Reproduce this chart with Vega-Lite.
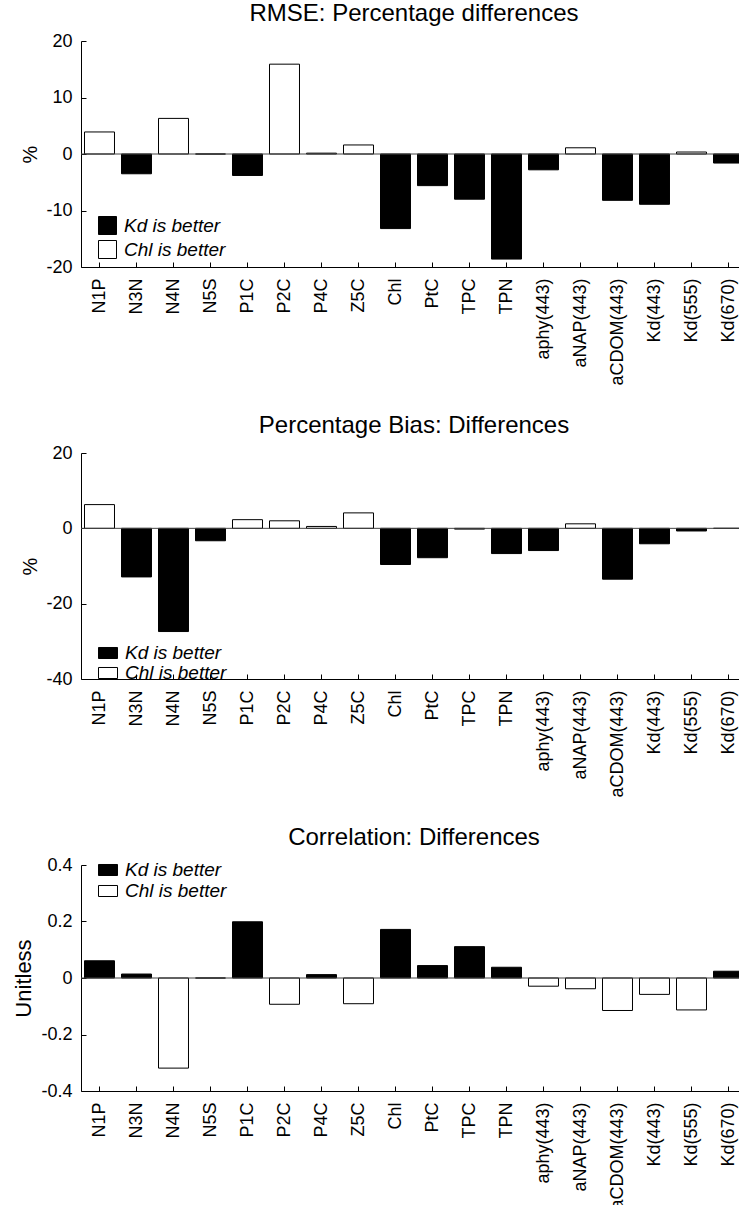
{
  "$schema": "https://vega.github.io/schema/vega-lite/v6.json",
  "padding": {"left": 12, "top": 2, "right": 0, "bottom": 0},
  "background": "white",
  "datasets": {
    "rmse": [
      {"var": "N1P", "value": 3.9, "better": "Chl is better"},
      {"var": "N3N", "value": -3.5, "better": "Kd is better"},
      {"var": "N4N", "value": 6.3, "better": "Chl is better"},
      {"var": "N5S", "value": 0, "better": "Chl is better"},
      {"var": "P1C", "value": -3.8, "better": "Kd is better"},
      {"var": "P2C", "value": 15.9, "better": "Chl is better"},
      {"var": "P4C", "value": 0.15, "better": "Chl is better"},
      {"var": "Z5C", "value": 1.6, "better": "Chl is better"},
      {"var": "Chl", "value": -13.2, "better": "Kd is better"},
      {"var": "PtC", "value": -5.6, "better": "Kd is better"},
      {"var": "TPC", "value": -8.0, "better": "Kd is better"},
      {"var": "TPN", "value": -18.6, "better": "Kd is better"},
      {"var": "aphy(443)", "value": -2.8, "better": "Kd is better"},
      {"var": "aNAP(443)", "value": 1.1, "better": "Chl is better"},
      {"var": "aCDOM(443)", "value": -8.2, "better": "Kd is better"},
      {"var": "Kd(443)", "value": -8.9, "better": "Kd is better"},
      {"var": "Kd(555)", "value": 0.35, "better": "Chl is better"},
      {"var": "Kd(670)", "value": -1.6, "better": "Kd is better"}
    ],
    "bias": [
      {"var": "N1P", "value": 6.3, "better": "Chl is better"},
      {"var": "N3N", "value": -12.9, "better": "Kd is better"},
      {"var": "N4N", "value": -27.4, "better": "Kd is better"},
      {"var": "N5S", "value": -3.3, "better": "Kd is better"},
      {"var": "P1C", "value": 2.3, "better": "Chl is better"},
      {"var": "P2C", "value": 2.0, "better": "Chl is better"},
      {"var": "P4C", "value": 0.5, "better": "Chl is better"},
      {"var": "Z5C", "value": 4.1, "better": "Chl is better"},
      {"var": "Chl", "value": -9.6, "better": "Kd is better"},
      {"var": "PtC", "value": -7.8, "better": "Kd is better"},
      {"var": "TPC", "value": -0.2, "better": "Kd is better"},
      {"var": "TPN", "value": -6.7, "better": "Kd is better"},
      {"var": "aphy(443)", "value": -5.9, "better": "Kd is better"},
      {"var": "aNAP(443)", "value": 1.2, "better": "Chl is better"},
      {"var": "aCDOM(443)", "value": -13.5, "better": "Kd is better"},
      {"var": "Kd(443)", "value": -4.1, "better": "Kd is better"},
      {"var": "Kd(555)", "value": -0.7, "better": "Kd is better"},
      {"var": "Kd(670)", "value": 0, "better": "Chl is better"}
    ],
    "corr": [
      {"var": "N1P", "value": 0.061, "better": "Kd is better"},
      {"var": "N3N", "value": 0.014, "better": "Kd is better"},
      {"var": "N4N", "value": -0.319, "better": "Chl is better"},
      {"var": "N5S", "value": 0, "better": "Chl is better"},
      {"var": "P1C", "value": 0.199, "better": "Kd is better"},
      {"var": "P2C", "value": -0.093, "better": "Chl is better"},
      {"var": "P4C", "value": 0.012, "better": "Kd is better"},
      {"var": "Z5C", "value": -0.091, "better": "Chl is better"},
      {"var": "Chl", "value": 0.172, "better": "Kd is better"},
      {"var": "PtC", "value": 0.044, "better": "Kd is better"},
      {"var": "TPC", "value": 0.111, "better": "Kd is better"},
      {"var": "TPN", "value": 0.038, "better": "Kd is better"},
      {"var": "aphy(443)", "value": -0.029, "better": "Chl is better"},
      {"var": "aNAP(443)", "value": -0.038, "better": "Chl is better"},
      {"var": "aCDOM(443)", "value": -0.115, "better": "Chl is better"},
      {"var": "Kd(443)", "value": -0.058, "better": "Chl is better"},
      {"var": "Kd(555)", "value": -0.113, "better": "Chl is better"},
      {"var": "Kd(670)", "value": 0.024, "better": "Kd is better"}
    ]
  },
  "spacing": 186,
  "bounds": "flush",
  "resolve": {"scale": {"fill": "independent", "y": "independent"}, "legend": {"fill": "independent"}},
  "vconcat": [
    {
      "width": 666, "height": 226,
      "title": "RMSE: Percentage differences",
      "layer": [
        {
          "data": {"name": "rmse"},
          "mark": {"type": "bar", "stroke": "black", "strokeWidth": 1},
          "encoding": {
            "x": {"field": "var", "type": "nominal", "sort": null, "scale": {"paddingInner": 0.19, "paddingOuter": 0.095}, "axis": {"title": null}},
            "y": {"field": "value", "type": "quantitative", "scale": {"domain": [-20, 20], "nice": false, "zero": false}, "axis": {"title": "%", "values": [-20, -10, 0, 10, 20], "labelExpr": "'' + datum.value", "titleFontSize": 20}},
            "fill": {"field": "better", "type": "nominal", "scale": {"domain": ["Kd is better", "Chl is better"], "range": ["black", "white"]},
              "legend": {"orient": "none", "legendX": 17, "legendY": 175, "title": null, "symbolType": "square", "symbolSize": 324, "rowPadding": 1}}
          }
        },
        {
          "data": {"values": [{}]},
          "mark": {"type": "rule", "color": "#444", "strokeWidth": 1},
          "encoding": {"y": {"datum": 0}}
        }
      ]
    },
    {
      "width": 666, "height": 226,
      "title": "Percentage Bias: Differences",
      "layer": [
        {
          "data": {"name": "bias"},
          "mark": {"type": "bar", "stroke": "black", "strokeWidth": 1},
          "encoding": {
            "x": {"field": "var", "type": "nominal", "sort": null, "scale": {"paddingInner": 0.19, "paddingOuter": 0.095}, "axis": {"title": null}},
            "y": {"field": "value", "type": "quantitative", "scale": {"domain": [-40, 20], "nice": false, "zero": false}, "axis": {"title": "%", "values": [-40, -20, 0, 20], "labelExpr": "'' + datum.value", "titleFontSize": 20}},
            "fill": {"field": "better", "type": "nominal", "scale": {"domain": ["Kd is better", "Chl is better"], "range": ["black", "white"]},
              "legend": {"orient": "none", "legendX": 17, "legendY": 190, "title": null, "symbolType": "M-1,-0.58H1V0.58H-1Z", "symbolSize": 361, "rowPadding": 0}}
          }
        },
        {
          "data": {"values": [{}]},
          "mark": {"type": "rule", "color": "#444", "strokeWidth": 1},
          "encoding": {"y": {"datum": 0}}
        }
      ]
    },
    {
      "width": 666, "height": 226,
      "title": "Correlation: Differences",
      "layer": [
        {
          "data": {"name": "corr"},
          "mark": {"type": "bar", "stroke": "black", "strokeWidth": 1},
          "encoding": {
            "x": {"field": "var", "type": "nominal", "sort": null, "scale": {"paddingInner": 0.19, "paddingOuter": 0.095}, "axis": {"title": null}},
            "y": {"field": "value", "type": "quantitative", "scale": {"domain": [-0.4, 0.4], "nice": false, "zero": false}, "axis": {"title": "Unitless", "values": [-0.4, -0.2, 0, 0.2, 0.4], "labelExpr": "'' + datum.value", "titleFontSize": 22}},
            "fill": {"field": "better", "type": "nominal", "scale": {"domain": ["Kd is better", "Chl is better"], "range": ["black", "white"]},
              "legend": {"orient": "none", "legendX": 17, "legendY": -5, "title": null, "symbolType": "M-1,-0.58H1V0.58H-1Z", "symbolSize": 361, "rowPadding": 1}}
          }
        },
        {
          "data": {"values": [{}]},
          "mark": {"type": "rule", "color": "#444", "strokeWidth": 1},
          "encoding": {"y": {"datum": 0}}
        }
      ]
    }
  ],
  "config": {
    "font": "Liberation Sans",
    "view": {"stroke": null},
    "title": {"fontSize": 24, "fontWeight": "normal", "color": "black", "offset": 6, "anchor": "middle"},
    "axis": {"domainColor": "black", "tickColor": "black", "labelColor": "black", "titleColor": "black", "grid": false, "labelFontSize": 18, "titleFontWeight": "normal", "tickSize": -5, "labelPadding": 14},
    "axisX": {"labelAngle": -90, "labelPadding": 16},
    "axisY": {"titlePadding": 5},
    "legend": {"padding": 0, "labelFontSize": 19, "labelFontStyle": "italic", "labelColor": "black", "labelOffset": 7, "symbolStrokeColor": "black", "symbolStrokeWidth": 1, "symbolOpacity": 1}
  }
}
